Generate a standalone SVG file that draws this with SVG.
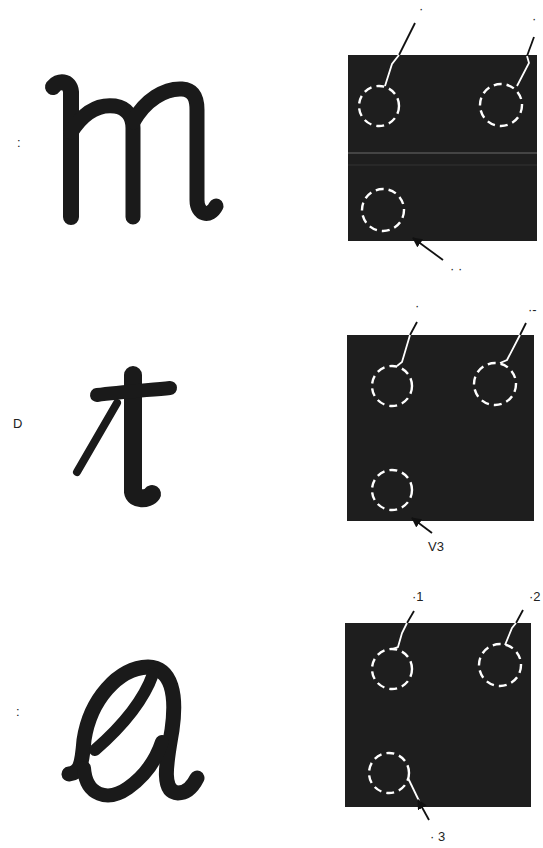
<svg xmlns="http://www.w3.org/2000/svg" width="543" height="848" viewBox="0 0 543 848">
<style>
.glyph{fill:none;stroke:#1a1a1a;stroke-linecap:round;stroke-linejoin:round}
.panel{fill:#1e1e1e}
.ring{fill:none;stroke:#fff;stroke-width:2.4;stroke-dasharray:8 5}
.lw{fill:none;stroke:#fff;stroke-width:1.8}
.lb{fill:none;stroke:#111;stroke-width:1.8}
.lbl{font-family:"Liberation Sans",Arial,sans-serif;font-size:13px;fill:#222}
</style>
<defs>
<marker id="ah" viewBox="0 0 10 10" refX="9" refY="5" markerWidth="10" markerHeight="10" markerUnits="userSpaceOnUse" orient="auto">
<path d="M0,0 L10,5 L0,10 z" fill="#111"/>
</marker>
</defs>
<rect width="543" height="848" fill="#fff"/>

<g id="row1-label"><text class="lbl" x="17" y="147">:</text></g>
<g id="glyph-m">
<path class="glyph" stroke-width="16" d="M53 87 C58 80 70 80 71 92 L71 217"/>
<path class="glyph" stroke-width="15" d="M71 132 C85 110 100 104 115 106 C128 108 133 118 133 128 L133 217"/>
<path class="glyph" stroke-width="15" d="M133 122 C145 100 165 88 182 89 C195 90 197 100 197 110 L197 200 C197 215 210 218 216 206"/>
</g>

<g id="row2-label"><text class="lbl" x="13" y="428">D</text></g>
<g id="glyph-t">
<path class="glyph" stroke-width="18" d="M133 375 L133 492 C134 500 148 500 152 494"/>
<path class="glyph" stroke-width="14" d="M97 395 C120 392 150 390 170 388"/>
<path class="glyph" stroke-width="8" d="M77 472 L117 403"/>
</g>

<g id="row3-label"><text class="lbl" x="16" y="716">:</text></g>
<g id="glyph-a">
<path class="glyph" stroke-width="15" d="M69 774 C80 773 82 765 84 740 C90 700 118 668 148 667 C172 668 177 695 172 730 C167 760 160 792 178 793 C188 793 194 784 197 778"/>
<path class="glyph" stroke-width="14" d="M84 768 C86 796 108 802 128 788 C145 776 156 760 162 742"/>
<path class="glyph" stroke-width="12" d="M95 750 C118 730 142 705 153 674"/>
</g>

<g id="panel1">
<rect class="panel" x="348" y="55" width="189" height="186"/>
<line x1="348" y1="153" x2="537" y2="153" stroke="#6a6a6a" stroke-width="1"/>
<line x1="348" y1="165" x2="537" y2="165" stroke="#333" stroke-width="1"/>
<circle class="ring" cx="379" cy="106" r="20"/>
<circle class="ring" cx="501" cy="105" r="21"/>
<circle class="ring" cx="383" cy="210" r="21"/>
</g>
<g id="panel2">
<rect class="panel" x="347" y="335" width="187" height="186"/>
<circle class="ring" cx="392" cy="386" r="20"/>
<circle class="ring" cx="495" cy="384" r="21"/>
<circle class="ring" cx="392" cy="490" r="20"/>
</g>
<g id="panel3">
<rect class="panel" x="345" y="623" width="186" height="184"/>
<circle class="ring" cx="392" cy="669" r="20"/>
<circle class="ring" cx="500" cy="665" r="21"/>
<circle class="ring" cx="389" cy="773" r="20"/>
</g>

<g id="connectors">
<line class="lb" x1="415" y1="23" x2="399" y2="55"/>
<polyline class="lw" points="399,55 392,64 385,86"/>
<line class="lb" x1="534" y1="37" x2="527" y2="56"/>
<polyline class="lw" points="527,56 529,63 517,86"/>
<line class="lb" x1="443" y1="260" x2="413" y2="238" marker-end="url(#ah)"/>

<line class="lb" x1="417" y1="322" x2="410" y2="335"/>
<polyline class="lw" points="410,335 402,362 397,366"/>
<line class="lb" x1="526" y1="323" x2="520" y2="335"/>
<polyline class="lw" points="520,335 507,360 500,363"/>
<line class="lb" x1="432" y1="533" x2="412" y2="518" marker-end="url(#ah)"/>

<line class="lb" x1="414" y1="611" x2="407" y2="623"/>
<polyline class="lw" points="407,623 402,633 398,647 392,649"/>
<line class="lb" x1="523" y1="610" x2="516" y2="623"/>
<polyline class="lw" points="516,623 512,628 505,645"/>
<line class="lw" x1="408" y1="778" x2="422" y2="807"/>
<line class="lb" x1="429" y1="820" x2="418" y2="800" marker-end="url(#ah)"/>
</g>

<g id="labels">
<text class="lbl" x="419" y="13">·</text>
<text class="lbl" x="532" y="23">·</text>
<text class="lbl" x="450" y="273">· ·</text>
<text class="lbl" x="415" y="310">·</text>
<text class="lbl" x="528" y="314">·-</text>
<text class="lbl" x="428" y="551">V3</text>
<text class="lbl" x="412" y="601">·1</text>
<text class="lbl" x="529" y="601">·2</text>
<text class="lbl" x="430" y="841">· 3</text>
</g>
</svg>
